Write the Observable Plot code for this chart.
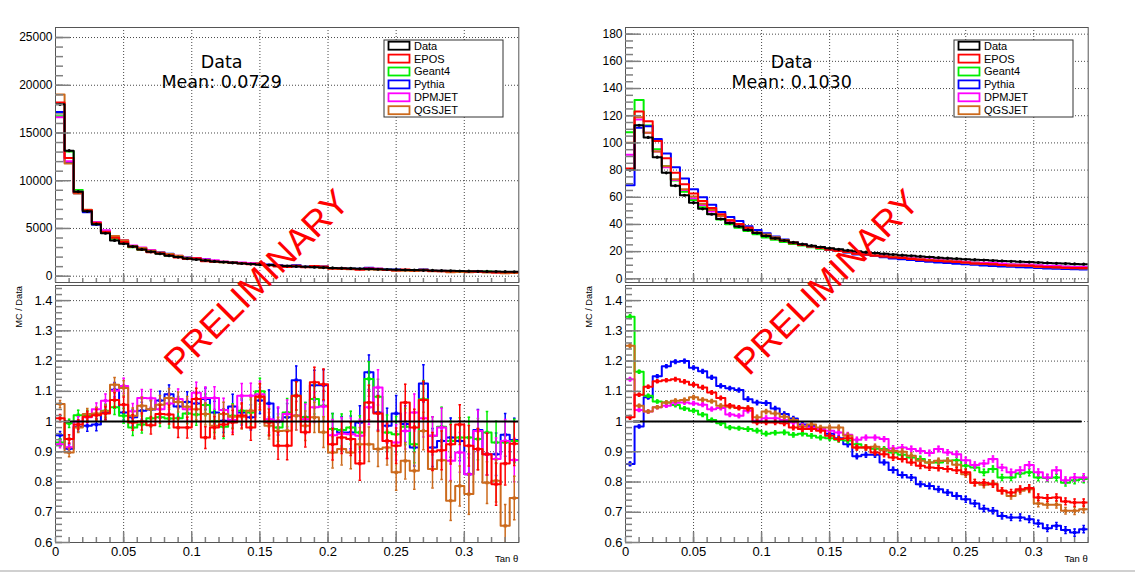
<!DOCTYPE html>
<html><head><meta charset="utf-8">
<script src="https://cdn.jsdelivr.net/npm/d3@7"></script>
<script src="https://cdn.jsdelivr.net/npm/@observablehq/plot@0.6"></script>
<style>
html,body{margin:0;padding:0;background:#fff;}
#root{position:relative;width:1135px;height:572px;overflow:hidden;font-family:"Liberation Sans",Arial,sans-serif;}
#root > svg{position:absolute;overflow:visible;}
#sep{position:absolute;left:0;top:570px;width:1135px;height:2px;background:#d0d0d0;}
</style></head><body><div id="root"><div id="sep"></div></div>
<script>
// ---------- data ----------
const seriesNames = ["Data","EPOS","Geant4","Pythia","DPMJET","QGSJET"];
const seriesColors = {Data:"#000000", EPOS:"#ff0000", Geant4:"#00ee00", Pythia:"#0000ff", DPMJET:"#ff00ff", QGSJET:"#cc6a1c"};
const xMax = 0.34;
const nBins = 51;
const xMajorTicks = [0.05,0.1,0.15,0.2,0.25,0.3];
const xTickLabels = [0,0.05,0.1,0.15,0.2,0.25,0.3];
const leftYTicks = [0,5000,10000,15000,20000,25000];
const rightYTicks = [0,20,40,60,80,100,120,140,160,180];
const ratioYTicks = [0.6,0.7,0.8,0.9,1,1.1,1.2,1.3,1.4];
const meanLeft = "Mean: 0.0729";
const meanRight = "Mean: 0.1030";

// Left: Data histogram (counts per bin)
const leftData = [18000,13150,8850,6800,5450,4500,3750,3400,3100,2800,
 2550,2350,2150,2000,1850,1750,1650,1550,1480,1400,
 1330,1270,1210,1160,1110,1060,1020,980,940,900,
 870,840,810,780,750,730,700,680,660,640,
 620,600,580,560,545,530,515,500,485,470,460];
// Left: MC / Data ratios
const leftEPOS = [1.011,0.942,0.990,1.016,1.021,1.027,1.071,1.056,0.997,1.000,
 0.988,1.025,1.023,0.980,0.980,1.075,0.947,0.980,0.990,0.997,
 1.020,0.980,1.083,0.997,0.920,0.920,1.085,0.965,1.130,1.123,
 0.925,0.947,0.942,0.861,1.063,1.027,0.936,0.920,1.063,0.980,
 1.071,0.901,0.905,0.925,0.990,0.920,0.909,0.892,0.793,0.861,0.927];
const leftGeant4 = [0.931,0.994,1.021,1.019,1.025,1.036,1.047,1.019,0.980,0.990,
 1.011,1.014,1.010,1.011,1.027,1.023,1.055,1.001,0.983,1.019,
 1.036,1.030,1.100,1.000,0.980,1.030,1.085,1.014,1.075,1.052,
 0.975,0.972,0.980,0.964,1.141,1.082,0.964,0.958,0.983,0.925,
 1.074,0.953,0.983,0.936,0.947,0.947,0.942,0.964,0.931,0.931,0.936];
const leftPythia = [0.955,0.910,0.983,0.986,0.990,1.030,1.105,1.030,1.014,1.036,
 1.040,1.070,1.090,1.050,1.065,1.060,1.075,1.030,1.003,1.050,
 1.030,1.014,1.070,1.060,1.000,1.014,1.137,1.014,1.120,1.120,
 0.975,0.964,0.964,0.997,1.163,1.030,0.986,1.027,0.992,0.914,
 1.126,0.914,0.936,0.947,0.936,0.826,0.972,0.892,0.892,0.956,0.939];
const leftDPMJET = [0.925,0.915,1.000,1.014,1.041,1.069,1.102,1.118,1.034,1.078,
 1.077,1.041,1.060,1.075,1.041,1.095,1.078,1.078,1.038,1.005,
 1.085,1.085,1.090,1.008,1.003,1.025,1.020,1.008,1.047,1.050,
 0.955,0.960,0.958,0.953,1.047,1.113,0.936,0.931,0.969,1.030,
 1.011,0.953,0.980,0.870,0.898,0.826,0.969,0.892,0.876,0.936,0.873];
const leftQGSJET = [1.058,0.898,0.980,1.025,1.027,1.034,1.122,1.111,1.019,1.052,
 1.041,1.056,1.078,1.065,1.049,1.041,1.025,0.986,1.025,1.016,
 1.016,1.036,1.080,0.986,0.969,0.970,1.019,0.986,1.014,0.965,
 0.898,0.909,0.898,0.925,0.925,0.909,0.914,0.832,0.870,0.837,
 0.969,0.843,0.872,0.738,0.787,0.760,0.909,0.798,0.804,0.655,0.747];
const leftErr = [0.012,0.014,0.016,0.018,0.020,0.022,0.024,0.025,0.026,0.028,
 0.029,0.030,0.031,0.033,0.034,0.035,0.036,0.037,0.039,0.040,
 0.041,0.042,0.043,0.044,0.045,0.046,0.047,0.049,0.050,0.051,
 0.052,0.053,0.054,0.055,0.057,0.058,0.058,0.059,0.060,0.061,
 0.062,0.063,0.064,0.065,0.066,0.067,0.068,0.069,0.070,0.071,0.072];

// Right: Data histogram
const rightData = [80,113,104,89.5,78,68.5,61.5,56,51.5,47.5,
 44,41,38.5,36,33.8,31.6,29.8,28.2,26.8,25.5,
 24.4,23.4,22.5,21.7,20.9,20.2,19.6,19,18.4,17.9,
 17.4,16.9,16.5,16.0,15.6,15.2,14.8,14.4,14.1,13.8,
 13.5,13.2,12.9,12.6,12.3,12.0,11.7,11.4,11.2,11.0,10.8];
const rightEPOS = [1.014,1.089,1.115,1.133,1.137,1.140,1.132,1.122,1.113,1.096,
 1.078,1.053,1.046,1.043,0.997,0.997,0.997,0.994,0.980,0.975,
 0.975,0.970,0.953,0.942,0.945,0.914,0.914,0.898,0.892,0.881,
 0.876,0.865,0.854,0.848,0.846,0.843,0.839,0.832,0.798,0.798,
 0.793,0.771,0.765,0.776,0.780,0.749,0.747,0.749,0.736,0.732,0.732];
const rightGeant4 = [1.347,1.165,1.085,1.066,1.063,1.055,1.043,1.036,1.023,1.005,
 0.994,0.980,0.978,0.975,0.970,0.960,0.963,0.964,0.956,0.960,
 0.953,0.947,0.945,0.940,0.937,0.925,0.915,0.910,0.909,0.898,
 0.890,0.881,0.876,0.865,0.865,0.870,0.872,0.854,0.848,0.832,
 0.843,0.815,0.815,0.828,0.832,0.815,0.813,0.815,0.798,0.806,0.810];
const rightPythia = [0.860,0.984,1.080,1.150,1.183,1.198,1.200,1.178,1.166,1.146,
 1.118,1.110,1.104,1.074,1.063,1.061,1.043,1.025,1.010,0.990,
 0.985,0.975,0.960,0.945,0.925,0.885,0.890,0.890,0.865,0.840,
 0.823,0.815,0.793,0.787,0.776,0.765,0.754,0.743,0.729,0.712,
 0.705,0.688,0.683,0.683,0.677,0.663,0.647,0.655,0.641,0.633,0.644];
const rightDPMJET = [1.140,1.038,1.033,1.047,1.052,1.062,1.063,1.060,1.056,1.041,
 1.045,1.023,1.019,1.036,1.003,1.011,1.011,1.005,0.997,0.986,
 0.980,0.975,0.970,0.964,0.956,0.940,0.947,0.947,0.942,0.911,
 0.914,0.909,0.903,0.896,0.909,0.898,0.892,0.872,0.856,0.861,
 0.876,0.848,0.832,0.839,0.856,0.832,0.815,0.839,0.806,0.815,0.815];
const rightQGSJET = [1.251,1.052,1.033,1.047,1.063,1.069,1.071,1.080,1.072,1.067,
 1.052,1.049,1.045,1.045,1.014,1.033,1.027,1.016,1.005,0.983,
 0.990,0.980,0.980,0.980,0.953,0.914,0.914,0.917,0.905,0.903,
 0.900,0.887,0.870,0.865,0.870,0.870,0.857,0.826,0.798,0.791,
 0.795,0.771,0.754,0.771,0.776,0.729,0.725,0.725,0.705,0.705,0.710];
const rightErr = [0.006,0.005,0.005,0.005,0.005,0.006,0.006,0.006,0.006,0.006,
 0.006,0.006,0.006,0.007,0.007,0.007,0.007,0.007,0.007,0.007,
 0.007,0.007,0.008,0.008,0.008,0.008,0.008,0.008,0.008,0.009,
 0.009,0.009,0.009,0.009,0.009,0.009,0.010,0.010,0.010,0.010,
 0.010,0.010,0.010,0.011,0.011,0.011,0.011,0.011,0.011,0.012,0.012];

// ---------- helpers ----------
const binW = xMax / nBins;
function steps(vals){
  const out = [];
  vals.forEach((v,i)=>{ out.push({x:i*binW, y:v}); out.push({x:(i+1)*binW, y:v}); });
  return out;
}
function points(vals, errs){
  return vals.map((v,i)=>({c:(i+0.5)*binW, cl:(i+0.5-0.14)*binW, cr:(i+0.5+0.14)*binW, v, lo:v-errs[i], hi:v+errs[i]}));
}
const xMinor = d3.range(0, xMax+1e-9, 0.01);
const gridStyle = {stroke:"#333", strokeDasharray:"1,2", strokeWidth:0.9};
const tickStroke = "#808080";

function topPanel(opt){
  const {data, ratios, yDomain, yTicks, yMinorStep, width, marginRight} = opt;
  const yMinor = d3.range(0, yTicks[yTicks.length-1]+1e-9, yMinorStep);
  const mcOrder = ["Geant4","Pythia","DPMJET","QGSJET","EPOS"];
  const marks = [
    Plot.ruleX(xMajorTicks, gridStyle),
    Plot.ruleY(yTicks, gridStyle),
  ];
  for (const s of mcOrder){
    const mc = data.map((d,i)=>d*ratios[s][i]);
    marks.push(Plot.line(steps(mc), {x:"x", y:"y", stroke:seriesColors[s], strokeWidth:2, clip:true}));
  }
  marks.push(Plot.line(steps(data), {x:"x", y:"y", stroke:"#000", strokeWidth:2, clip:true}));
  marks.push(Plot.dot(data.map((d,i)=>({c:(i+0.5)*binW, v:d})), {x:"c", y:"v", r:1.6, fill:"#000"}));
  marks.push(Plot.frame({stroke:"#555"}));
  marks.push(Plot.axisY(yMinor, {anchor:"left", tickSize:-8, tickFormat:()=>"", stroke:tickStroke, strokeWidth:1.5}));
  marks.push(Plot.axisY(yTicks, {anchor:"left", tickSize:-15, tickPadding:18, tickFormat:d=>String(d), stroke:tickStroke, strokeWidth:1.5, fill:"#000"}));
  marks.push(Plot.axisX(xMinor, {anchor:"bottom", tickSize:-4, tickFormat:()=>"", stroke:tickStroke, strokeWidth:1.5}));
  marks.push(Plot.axisX(xMajorTicks, {anchor:"bottom", tickSize:-8, tickFormat:()=>"", stroke:tickStroke, strokeWidth:1.5}));
  return Plot.plot({
    width, height:282, marginTop:27, marginBottom:0, marginLeft:55, marginRight,
    x:{domain:[0,xMax], axis:null, label:null},
    y:{domain:yDomain, axis:null, label:null},
    style:{fontFamily:"'Liberation Sans', Arial, sans-serif", fontSize:"12px", background:"transparent", overflow:"visible", color:"#000"},
    marks
  });
}

function ratioPanel(opt){
  const {ratios, errs, width, marginRight, lineRange} = opt;
  const yMinor = d3.range(0.6, 1.45, 0.02);
  const order = ["Pythia","Geant4","DPMJET","QGSJET","EPOS"];
  const marks = [
    Plot.ruleX(xMajorTicks, gridStyle),
    Plot.ruleY(ratioYTicks.slice(1), gridStyle),
  ];
  for (const s of order){
    const col = seriesColors[s];
    const pts = points(ratios[s], errs);
    marks.push(Plot.line(steps(ratios[s]), {x:"x", y:"y", stroke:col, strokeWidth:2, clip:true}));
    marks.push(Plot.ruleX(pts, {x:"c", y1:"lo", y2:"hi", stroke:col, strokeWidth:1.5, clip:true}));
    marks.push(Plot.link(pts, {x1:"cl", x2:"cr", y1:"hi", y2:"hi", stroke:col, strokeWidth:1.5, clip:true}));
    marks.push(Plot.link(pts, {x1:"cl", x2:"cr", y1:"lo", y2:"lo", stroke:col, strokeWidth:1.5, clip:true}));
    marks.push(Plot.dot(pts, {x:"c", y:"v", symbol:"square", r:1.8, fill:col, clip:true}));
  }
  marks.push(Plot.ruleY([1], {x1:lineRange[0], x2:lineRange[1], stroke:"#000", strokeWidth:2}));
  marks.push(Plot.frame({stroke:"#555"}));
  marks.push(Plot.axisY(yMinor, {anchor:"left", tickSize:-7, tickFormat:()=>"", stroke:tickStroke, strokeWidth:1.5}));
  marks.push(Plot.axisY(ratioYTicks, {anchor:"left", tickSize:-15, tickPadding:18, tickFormat:d=>String(d), stroke:tickStroke, strokeWidth:1.5, fill:"#000"}));
  marks.push(Plot.axisX(xMinor, {anchor:"bottom", tickSize:-5, tickFormat:()=>"", stroke:tickStroke, strokeWidth:1.5}));
  marks.push(Plot.axisX(xMajorTicks, {anchor:"bottom", tickSize:-10, tickFormat:()=>"", stroke:tickStroke, strokeWidth:1.5}));
  marks.push(Plot.axisX(xTickLabels, {anchor:"bottom", tickSize:0, tickPadding:4, tickFormat:d=>String(d), fill:"#000"}));
  return Plot.plot({
    width, height:287, marginTop:0, marginBottom:30, marginLeft:55, marginRight,
    x:{domain:[0,xMax], axis:null, label:null},
    y:{domain:[0.6,1.45], axis:null, label:null},
    style:{fontFamily:"'Liberation Sans', Arial, sans-serif", fontSize:"13px", background:"transparent", overflow:"visible", color:"#000"},
    marks
  });
}

function annotateTop(svg, mean){
  const s = d3.select(svg);
  const g = s.append("g").attr("font-family","'DejaVu Sans', Verdana, sans-serif").attr("font-size","17.5px").attr("text-anchor","middle").attr("fill","#000");
  g.append("text").attr("x",221.7).attr("y",68).text("Data");
  g.append("text").attr("x",221.7).attr("y",88.3).text(mean);
  const lg = s.append("g").attr("font-family","'Liberation Sans', Arial, sans-serif").attr("font-size","11px").attr("text-anchor","start");
  lg.append("rect").attr("x",384).attr("y",40).attr("width",119).attr("height",77).attr("fill","#fff").attr("stroke","#333").attr("stroke-width",1);
  seriesNames.forEach((n,i)=>{
    const cy = 45.7 + i*12.9;
    lg.append("rect").attr("x",388.5).attr("y",cy-4).attr("width",21).attr("height",8).attr("fill","none").attr("stroke",seriesColors[n]).attr("stroke-width",1.8);
    lg.append("text").attr("x",414).attr("y",cy).attr("dy","0.36em").attr("text-anchor","start").attr("fill","#000").text(n);
  });
}
function annotateRatio(svg, frameRight){
  const s = d3.select(svg);
  s.append("text").attr("transform","translate(21.5,1) rotate(-90)").attr("text-anchor","end")
    .attr("font-family","'Liberation Sans', Arial, sans-serif").attr("font-size","9.3px").attr("fill","#000").text("MC / Data");
  s.append("text").attr("x",frameRight).attr("y",277.3).attr("text-anchor","end")
    .attr("font-family","'Liberation Sans', Arial, sans-serif").attr("font-size","9.5px").attr("fill","#000").text("Tan θ");
}

const root = document.getElementById("root");
const leftRatios = {EPOS:leftEPOS, Geant4:leftGeant4, Pythia:leftPythia, DPMJET:leftDPMJET, QGSJET:leftQGSJET};
const rightRatios = {EPOS:rightEPOS, Geant4:rightGeant4, Pythia:rightPythia, DPMJET:rightDPMJET, QGSJET:rightQGSJET};

const lt = topPanel({data:leftData, ratios:leftRatios, yDomain:[-660,26050], yTicks:leftYTicks, yMinorStep:1000, width:570, marginRight:51.7});
lt.style.left="0px"; lt.style.top="0px"; root.appendChild(lt); annotateTop(lt, meanLeft);
const rt = topPanel({data:rightData, ratios:rightRatios, yDomain:[-2.7,184.9], yTicks:rightYTicks, yMinorStep:5, width:565, marginRight:47.3});
rt.style.left="570px"; rt.style.top="0px"; root.appendChild(rt); annotateTop(rt, meanRight);
const lb = ratioPanel({ratios:leftRatios, errs:leftErr, width:570, marginRight:51.7, lineRange:[binW, xMax]});
lb.style.left="0px"; lb.style.top="285px"; root.appendChild(lb); annotateRatio(lb, 518.3);
const rb = ratioPanel({ratios:rightRatios, errs:rightErr, width:565, marginRight:47.3, lineRange:[binW*0.9, 0.3355]});
rb.style.left="570px"; rb.style.top="285px"; root.appendChild(rb); annotateRatio(rb, 517.7);

// PRELIMINARY watermark overlay
const ov = d3.select(root).append("svg").attr("width",1135).attr("height",572).style("left","0px").style("top","0px").style("pointer-events","none");
[[256,281.5],[826,281.5]].forEach(([cx,cy])=>{
  ov.append("text").attr("transform",`translate(${cx},${cy}) rotate(-45)`).attr("text-anchor","middle").attr("dy","0.36em")
    .attr("font-family","'Liberation Sans', Arial, sans-serif").attr("font-size","36px").attr("fill","#ff0000").text("PRELIMINARY");
});
</script></body></html>
